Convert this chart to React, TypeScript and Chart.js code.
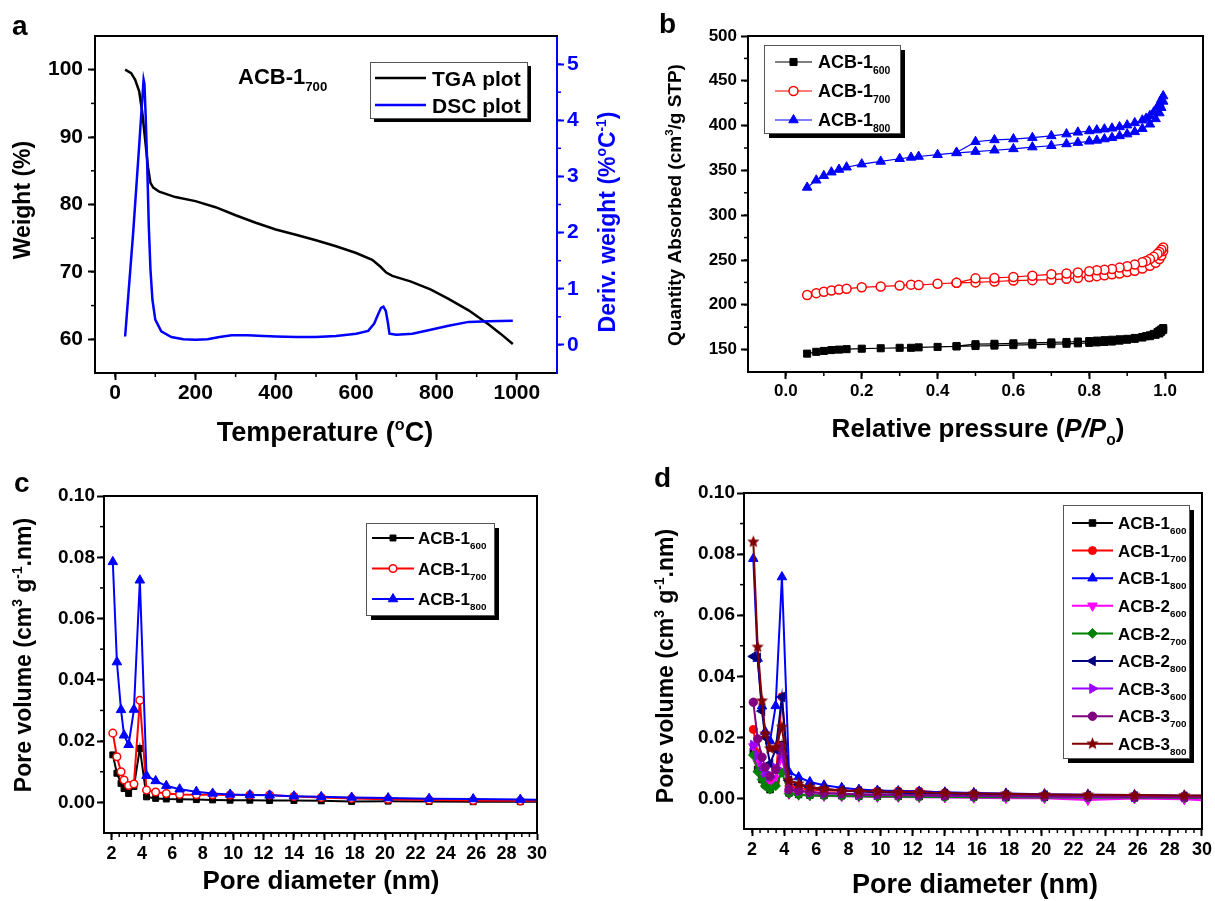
import React, { useEffect, useRef } from 'react';
import { Chart, registerables } from 'chart.js';
import { drawPoint } from 'chart.js/helpers';

Chart.register(...registerables);

const FONT = "'Liberation Sans', Arial, Helvetica, sans-serif";

// ---------------- Panel a : TGA / DSC ----------------
const tgaTemp = [25, 40, 50, 60, 68, 75, 82, 88, 95, 110, 150, 200, 250, 300, 350, 400, 450, 500, 550, 600, 640, 660, 675, 690, 735, 785, 830, 880, 930, 960, 990];
const tgaWeight = [100.0, 99.5, 98.5, 96.8, 93.5, 89.5, 85.5, 83.2, 82.5, 81.9, 81.1, 80.5, 79.6, 78.4, 77.3, 76.3, 75.5, 74.7, 73.8, 72.8, 71.8, 70.8, 69.9, 69.4, 68.6, 67.4, 66.0, 64.3, 62.2, 60.8, 59.3];
const dscTemp = [25, 45, 60, 66, 71, 73, 76, 80, 84, 88, 93, 100, 115, 140, 170, 200, 230, 260, 290, 330, 370, 400, 450, 500, 550, 600, 630, 645, 655, 662, 668, 674, 679, 683, 700, 740, 780, 830, 880, 930, 990];
const dscDeriv = [0.15, 2.0, 3.55, 4.2, 4.72, 4.65, 4.1, 3.2, 2.1, 1.35, 0.8, 0.45, 0.24, 0.14, 0.1, 0.09, 0.1, 0.14, 0.17, 0.17, 0.16, 0.15, 0.14, 0.14, 0.16, 0.2, 0.25, 0.38, 0.55, 0.66, 0.68, 0.6, 0.4, 0.2, 0.18, 0.2, 0.26, 0.34, 0.41, 0.42, 0.43];
const aTempTicks = [0, 200, 400, 600, 800, 1000];
const aWeightTicks = [60, 70, 80, 90, 100];
const aDerivTicks = [0, 1, 2, 3, 4, 5];

// ---------------- Panel b : N2 isotherms ----------------
const bAdsP = [0.056, 0.08, 0.1, 0.12, 0.14, 0.16, 0.2, 0.25, 0.3, 0.33, 0.35, 0.4, 0.45, 0.5, 0.55, 0.6, 0.65, 0.7, 0.74, 0.77, 0.8, 0.82, 0.84, 0.86, 0.88, 0.9, 0.92, 0.94, 0.96, 0.975, 0.985, 0.99, 0.995];
const bDesP = [0.995, 0.99, 0.985, 0.98, 0.97, 0.96, 0.95, 0.94, 0.92, 0.9, 0.88, 0.86, 0.84, 0.82, 0.8, 0.77, 0.74, 0.7, 0.65, 0.6, 0.55, 0.5, 0.45];
const b600Ads = [145.5, 147.5, 148.5, 149.5, 150, 150.5, 151, 151.5, 152, 152, 152.5, 153, 153.5, 154, 154.5, 155, 155.5, 156, 156.5, 157, 157.5, 158, 158.5, 159, 160, 161, 162, 163.5, 165, 166.5, 168, 170, 172];
const b600Des = [174, 172.5, 171, 169.5, 167.5, 166, 165, 164, 163, 162, 161.5, 161, 160.5, 160, 159.5, 159, 158.5, 158, 157.5, 157, 156.5, 156, 154];
const b700Ads = [211, 213, 214.5, 216, 217, 218, 219.5, 220.5, 221.5, 222.5, 222, 223.5, 224.5, 225, 226, 227, 227.5, 228, 229, 230, 231, 232, 233, 234, 235, 236.5, 238, 240.5, 243.5, 247, 251, 255, 260];
const b700Des = [264, 261.5, 259, 257, 253.5, 251, 249, 247.5, 245, 243, 241.5, 240, 239, 238.5, 237.5, 236, 235, 234, 232.5, 231, 230, 229.5, 224.5];
const b800Ads = [331, 339, 344, 348, 351, 353.5, 357, 360, 363, 364.5, 365.5, 367.5, 369.5, 371, 372.5, 374, 376, 377.5, 379.5, 381, 382.5, 383.5, 385, 386.5, 388.5, 390.5, 393, 396.5, 401.5, 407.5, 414, 420, 427];
const b800Des = [433, 429, 424.5, 420.5, 415, 411, 408, 406, 403, 400.5, 398.5, 397, 396, 395, 394, 392.5, 390.5, 388.5, 386.5, 385, 384, 382, 370];
const bPressureTicks = [0, 0.2, 0.4, 0.6, 0.8, 1.0];
const bQuantityTicks = [150, 200, 250, 300, 350, 400, 450, 500];

// ---------------- Panels c, d : pore size distributions ----------------
const poreDiameter = [2.08, 2.35, 2.62, 2.82, 3.12, 3.47, 3.86, 4.3, 4.9, 5.6, 6.48, 7.58, 8.65, 9.8, 11.1, 12.4, 14.0, 15.8, 17.8, 20.2, 22.9, 25.8, 28.9, 31];
const acb1_600 = [0.0155, 0.0095, 0.0062, 0.0045, 0.0029, 0.0052, 0.0176, 0.0018, 0.0013, 0.0011, 0.001, 0.0009, 0.0008, 0.0007, 0.0007, 0.0006, 0.0006, 0.0005, 0.0003, 0.0004, 0.0003, 0.0002, 0.0002, 0.0002];
const acb1_700 = [0.0226, 0.0149, 0.01, 0.0073, 0.0055, 0.006, 0.0333, 0.004, 0.0034, 0.0029, 0.0026, 0.0025, 0.0025, 0.0024, 0.0024, 0.0024, 0.0019, 0.0016, 0.0013, 0.001, 0.0008, 0.0006, 0.0005, 0.0005];
const acb1_800 = [0.0785, 0.0458, 0.0302, 0.0219, 0.0188, 0.0303, 0.0725, 0.0087, 0.007, 0.0054, 0.0043, 0.0035, 0.0029, 0.0026, 0.0024, 0.0023, 0.002, 0.0018, 0.0016, 0.0014, 0.0012, 0.0011, 0.0009, 0.0008];
const acb2_600 = [0.017, 0.0115, 0.008, 0.006, 0.0045, 0.0065, 0.0135, 0.0015, 0.0012, 0.001, 0.0008, 0.0007, 0.0006, 0.0005, 0.0005, 0.0004, 0.0003, 0.0002, 0.0001, 0.0001, -0.0005, 0.0, -0.0003, -0.0008];
const acb2_700 = [0.0142, 0.0088, 0.0062, 0.0041, 0.003, 0.0041, 0.0085, 0.0016, 0.0012, 0.001, 0.0009, 0.0008, 0.0007, 0.0006, 0.0006, 0.0005, 0.0005, 0.0004, 0.0004, 0.0003, 0.0003, 0.0002, 0.0002, 0.0002];
const acb2_800 = [0.0465, 0.046, 0.0286, 0.02, 0.0114, 0.016, 0.0332, 0.0059, 0.0045, 0.0036, 0.003, 0.0026, 0.0023, 0.002, 0.0018, 0.0016, 0.0015, 0.0013, 0.0011, 0.001, 0.0008, 0.0007, 0.0006, 0.0005];
const acb3_600 = [0.0175, 0.014, 0.0105, 0.0085, 0.007, 0.01, 0.0145, 0.003, 0.0025, 0.002, 0.0017, 0.0015, 0.0013, 0.0012, 0.0011, 0.001, 0.0009, 0.0008, 0.0007, 0.0006, 0.0005, 0.0004, 0.0004, 0.0003];
const acb3_700 = [0.0315, 0.0195, 0.0135, 0.0102, 0.0073, 0.0095, 0.017, 0.0029, 0.0025, 0.0021, 0.0018, 0.0016, 0.0014, 0.0013, 0.0012, 0.0011, 0.001, 0.0009, 0.0008, 0.0007, 0.0006, 0.0005, 0.0005, 0.0004];
const acb3_800 = [0.084, 0.0496, 0.032, 0.0212, 0.0163, 0.0168, 0.0234, 0.0059, 0.0048, 0.0037, 0.0032, 0.0026, 0.0024, 0.0023, 0.0021, 0.002, 0.0018, 0.0016, 0.0015, 0.0013, 0.0012, 0.0011, 0.001, 0.001];
const poreDiamTicks = [2, 4, 6, 8, 10, 12, 14, 16, 18, 20, 22, 24, 26, 28, 30];
const poreVolTicks = [0, 0.02, 0.04, 0.06, 0.08, 0.1];

// ---------------- helpers ----------------
type Seg = { t: string; s?: 'sub' | 'sup'; i?: boolean };
const T = (t: string): Seg => ({ t });
const SUB = (t: string): Seg => ({ t, s: 'sub' });
const SUP = (t: string): Seg => ({ t, s: 'sup' });
const IT = (t: string): Seg => ({ t, i: true });

const zip = (xs: number[], ys: number[]) => xs.map((x, i) => ({ x, y: ys[i] }));

function drawRich(ctx: CanvasRenderingContext2D, segs: Seg[], x: number, y: number,
  o: { size: number; color?: string; align?: 'left' | 'center'; rotate?: boolean; sub?: number }) {
  const sc = o.sub ?? 0.6;
  const font = (sz: number, it?: boolean) => `${it ? 'italic ' : ''}bold ${sz}px ${FONT}`;
  let w = 0;
  const parts = segs.map((sg) => {
    const sz = sg.s ? o.size * sc : o.size;
    ctx.font = font(sz, sg.i);
    const mw = ctx.measureText(sg.t).width;
    const p = { sg, sz, x: w };
    w += mw;
    return p;
  });
  ctx.save();
  ctx.translate(x, y);
  if (o.rotate) ctx.rotate(-Math.PI / 2);
  const start = o.align === 'center' ? -w / 2 : 0;
  ctx.fillStyle = o.color ?? '#000';
  ctx.textBaseline = 'alphabetic';
  ctx.textAlign = 'left';
  parts.forEach((p) => {
    ctx.font = font(p.sz, p.sg.i);
    const dy = p.sg.s === 'sub' ? o.size * 0.3 : p.sg.s === 'sup' ? -o.size * 0.4 : 0;
    ctx.fillText(p.sg.t, start + p.x, o.size * 0.36 + dy);
  });
  ctx.restore();
}

type TextItem = { segs: Seg[]; x: number; y: number; size: number; color?: string; rotate?: boolean; align?: 'left' | 'center' };
type Minor = { axis: string; step: number; len: number; color?: string };
type LegendCfg = { x: number; y: number; w: number; h: number; shadow: number; rows: { ds: number; segs: Seg[] }[]; y0: number; dy: number; lx1: number; lx2: number; tx: number; size: number };
type Decor = { texts: TextItem[]; minor: Minor[]; rightLine: boolean; legend: LegendCfg };

function decorPlugin(d: Decor) {
  return {
    id: 'decor',
    afterDraw(chart: any) {
      const ctx: CanvasRenderingContext2D = chart.ctx;
      const a = chart.chartArea;
      ctx.save();
      // frame
      ctx.strokeStyle = '#000';
      ctx.lineWidth = 2;
      ctx.beginPath();
      ctx.moveTo(a.left - 1, a.top);
      ctx.lineTo(a.right + 1, a.top);
      if (d.rightLine) {
        ctx.moveTo(a.right, a.top);
        ctx.lineTo(a.right, a.bottom + 1);
      }
      ctx.stroke();
      // minor ticks
      d.minor.forEach((m) => {
        const s = chart.scales[m.axis];
        ctx.strokeStyle = m.color ?? '#000';
        ctx.lineWidth = 1.5;
        const first = Math.ceil(s.min / m.step - 1e-6);
        for (let k = first; k * m.step <= s.max + 1e-9; k++) {
          const v = k * m.step;
          if (Math.abs(v - s.min) < m.step * 1e-3 || Math.abs(v - s.max) < m.step * 1e-3) continue;
          const p = s.getPixelForValue(v);
          ctx.beginPath();
          if (s.position === 'bottom') { ctx.moveTo(p, s.top); ctx.lineTo(p, s.top + m.len); }
          else if (s.position === 'left') { ctx.moveTo(s.right, p); ctx.lineTo(s.right - m.len, p); }
          else { ctx.moveTo(s.left, p); ctx.lineTo(s.left + m.len, p); }
          ctx.stroke();
        }
      });
      // legend
      const L = d.legend;
      ctx.fillStyle = '#000';
      ctx.fillRect(L.x + L.shadow, L.y + L.shadow, L.w, L.h);
      ctx.fillStyle = '#fff';
      ctx.fillRect(L.x, L.y, L.w, L.h);
      ctx.strokeStyle = '#555';
      ctx.lineWidth = 1;
      ctx.strokeRect(L.x + 0.5, L.y + 0.5, L.w, L.h);
      L.rows.forEach((r, i) => {
        const ds: any = chart.data.datasets[r.ds];
        const cy = L.y0 + i * L.dy;
        ctx.strokeStyle = ds.borderColor;
        ctx.lineWidth = ds.borderWidth;
        ctx.beginPath();
        ctx.moveTo(L.lx1, cy);
        ctx.lineTo(L.lx2, cy);
        ctx.stroke();
        if (ds.pointRadius > 0) {
          const mx = (L.lx1 + L.lx2) / 2;
          const st = ds.pointStyle;
          if (st instanceof HTMLCanvasElement) {
            ctx.drawImage(st, mx - st.width / 2, cy - st.height / 2);
          } else {
            ctx.fillStyle = ds.pointBackgroundColor;
            ctx.strokeStyle = ds.pointBorderColor;
            ctx.lineWidth = ds.pointBorderWidth;
            drawPoint(ctx, { pointStyle: st, rotation: ds.pointRotation || 0, radius: ds.pointRadius, borderWidth: ds.pointBorderWidth } as any, mx, cy);
          }
        }
        drawRich(ctx, r.segs, L.tx, cy, { size: L.size, sub: 0.58 });
      });
      // texts
      d.texts.forEach((t) => drawRich(ctx, t.segs, t.x, t.y, { size: t.size, color: t.color, rotate: t.rotate, align: t.align }));
      ctx.restore();
    },
  };
}

type AxisCfg = { pos: 'left' | 'right' | 'bottom'; min: number; max: number; ticks: number[]; fmt: (v: number) => string; thick: number; font: number; pad: number; color?: string };
function mkAxis(c: AxisCfg) {
  const color = c.color ?? '#000';
  return {
    type: 'linear',
    position: c.pos,
    min: c.min,
    max: c.max,
    afterBuildTicks: (s: any) => { s.ticks = c.ticks.map((v) => ({ value: v })); },
    afterFit: (s: any) => { if (c.pos === 'bottom') s.height = c.thick; else s.width = c.thick; },
    grid: { display: true, drawOnChartArea: false, drawTicks: true, tickLength: 7, tickWidth: 2, tickColor: color, color },
    border: { display: true, color, width: 2 },
    ticks: {
      color, autoSkip: false, maxRotation: 0, minRotation: 0, padding: c.pad,
      font: { family: FONT, size: c.font, weight: 'bold' },
      callback: (v: any) => c.fmt(Number(v)),
    },
  };
}

function ser(label: string, data: any[], color: string, style: any, o: any = {}) {
  return {
    label, data, borderColor: color, backgroundColor: color, borderWidth: 2,
    pointStyle: style, pointRadius: 4, pointBackgroundColor: color, pointBorderColor: color,
    pointBorderWidth: 1, pointRotation: 0, tension: 0, ...o,
  };
}

function makeStar(color: string, r: number) {
  const c = document.createElement('canvas');
  const s = Math.ceil(r * 2 + 2);
  c.width = s; c.height = s;
  const g = c.getContext('2d')!;
  g.fillStyle = color;
  g.beginPath();
  for (let i = 0; i < 10; i++) {
    const ang = -Math.PI / 2 + (i * Math.PI) / 5;
    const rr = i % 2 === 0 ? r : r * 0.45;
    g.lineTo(s / 2 + rr * Math.cos(ang), s / 2 + rr * Math.sin(ang));
  }
  g.closePath();
  g.fill();
  return c;
}

const baseOptions = (padding: any, scales: any) => ({
  responsive: false,
  animation: false,
  devicePixelRatio: 1,
  layout: { padding },
  plugins: { legend: { display: false }, tooltip: { enabled: false } },
  scales,
});

const orderize = (ds: any[]) => ds.map((d, i) => ({ ...d, order: ds.length - i }));

// ---------------- chart configs ----------------
function configA() {
  const datasets = [
    { label: 'TGA plot', data: zip(tgaTemp, tgaWeight), borderColor: '#000000', borderWidth: 2.5, pointRadius: 0, yAxisID: 'y', order: 2 },
    { label: 'DSC plot', data: zip(dscTemp, dscDeriv), borderColor: '#0000ff', borderWidth: 2.5, pointRadius: 0, yAxisID: 'y2', order: 1 },
  ];
  const decor: Decor = {
    rightLine: false,
    minor: [{ axis: 'x', step: 100, len: 4 }, { axis: 'y', step: 5, len: 4 }, { axis: 'y2', step: 0.5, len: 4, color: '#0000ff' }],
    texts: [
      { segs: [T('a')], x: 12, y: 25, size: 28 },
      { segs: [T('Weight (%)')], x: 22, y: 200, size: 23, rotate: true, align: 'center' },
      { segs: [T('Temperature ('), SUP('o'), T('C)')], x: 325, y: 431, size: 27, align: 'center' },
      { segs: [T('Deriv. weight (%'), SUP('o'), T('C'), SUP('-1'), T(')')], x: 607, y: 222, size: 23, rotate: true, align: 'center', color: '#0000ff' },
      { segs: [T('ACB-1'), SUB('700')], x: 238, y: 76, size: 22 },
    ],
    legend: {
      x: 370, y: 62, w: 157, h: 56, shadow: 4, y0: 78, dy: 27, lx1: 375, lx2: 426, tx: 432, size: 21,
      rows: [{ ds: 0, segs: [T('TGA plot')] }, { ds: 1, segs: [T('DSC plot')] }],
    },
  };
  return {
    type: 'line',
    data: { datasets },
    options: baseOptions({ top: 36, left: 0, right: 0, bottom: 0 }, {
      x: mkAxis({ pos: 'bottom', min: -50, max: 1100, ticks: aTempTicks, fmt: (v) => String(v), thick: 77, font: 21, pad: 1 }),
      y: mkAxis({ pos: 'left', min: 55, max: 105, ticks: aWeightTicks, fmt: (v) => String(v), thick: 95, font: 21, pad: 5 }),
      y2: mkAxis({ pos: 'right', min: -0.5, max: 5.5, ticks: aDerivTicks, fmt: (v) => String(v), thick: 83, font: 21, pad: 3, color: '#0000ff' }),
    }),
    plugins: [decorPlugin(decor)],
  };
}

function configB() {
  const datasets = orderize([
    ser('ACB-1600', [...zip(bAdsP, b600Ads), ...zip(bDesP, b600Des)], '#000000', 'rect', { borderWidth: 1.2, pointRadius: 5 }),
    ser('ACB-1700', [...zip(bAdsP, b700Ads), ...zip(bDesP, b700Des)], '#ff0000', 'circle', { borderWidth: 1.2, pointRadius: 4.5, pointBackgroundColor: '#ffffff', pointBorderWidth: 1.5 }),
    ser('ACB-1800', [...zip(bAdsP, b800Ads), ...zip(bDesP, b800Des)], '#0000ff', 'triangle', { borderWidth: 1.2, pointRadius: 5.5 }),
  ]);
  const decor: Decor = {
    rightLine: true,
    minor: [{ axis: 'x', step: 0.1, len: 4 }, { axis: 'y', step: 25, len: 4 }],
    texts: [
      { segs: [T('b')], x: 19, y: 23, size: 28 },
      { segs: [T('Quantity Absorbed (cm'), SUP('3'), T('/g STP)')], x: 34, y: 205, size: 19, rotate: true, align: 'center' },
      { segs: [T('Relative pressure ('), IT('P/P'), SUB('o'), T(')')], x: 338, y: 428, size: 26, align: 'center' },
    ],
    legend: {
      x: 124, y: 45, w: 136, h: 88, shadow: 5, y0: 62, dy: 29, lx1: 135, lx2: 172, tx: 178, size: 18,
      rows: [
        { ds: 0, segs: [T('ACB-1'), SUB('600')] },
        { ds: 1, segs: [T('ACB-1'), SUB('700')] },
        { ds: 2, segs: [T('ACB-1'), SUB('800')] },
      ],
    },
  };
  return {
    type: 'line',
    data: { datasets },
    options: baseOptions({ top: 36, left: 0, right: 12, bottom: 0 }, {
      x: mkAxis({ pos: 'bottom', min: -0.1, max: 1.1, ticks: bPressureTicks, fmt: (v) => v.toFixed(1), thick: 78, font: 17, pad: 2 }),
      y: mkAxis({ pos: 'left', min: 125, max: 500, ticks: bQuantityTicks, fmt: (v) => String(v), thick: 108, font: 17, pad: 4 }),
    }),
    plugins: [decorPlugin(decor)],
  };
}

function configC() {
  const datasets = orderize([
    ser('ACB-1600', zip(poreDiameter, acb1_600), '#000000', 'rect', { pointRadius: 4.2 }),
    ser('ACB-1700', zip(poreDiameter, acb1_700), '#ff0000', 'circle', { pointRadius: 3.8, pointBackgroundColor: '#ffffff', pointBorderWidth: 1.5 }),
    ser('ACB-1800', zip(poreDiameter, acb1_800), '#0000ff', 'triangle', { pointRadius: 5.5 }),
  ]);
  const decor: Decor = {
    rightLine: true,
    minor: [{ axis: 'x', step: 0.5, len: 4 }, { axis: 'y', step: 0.01, len: 4 }],
    texts: [
      { segs: [T('c')], x: 14, y: 32, size: 28 },
      { segs: [T('Pore volume (cm'), SUP('3'), T(' g'), SUP('-1'), T('.nm)')], x: 23, y: 205, size: 23, rotate: true, align: 'center' },
      { segs: [T('Pore diameter (nm)')], x: 321, y: 430, size: 26, align: 'center' },
    ],
    legend: {
      x: 366, y: 73, w: 128, h: 92, shadow: 5, y0: 88, dy: 30.5, lx1: 372, lx2: 414, tx: 418, size: 17,
      rows: [
        { ds: 0, segs: [T('ACB-1'), SUB('600')] },
        { ds: 1, segs: [T('ACB-1'), SUB('700')] },
        { ds: 2, segs: [T('ACB-1'), SUB('800')] },
      ],
    },
  };
  return {
    type: 'line',
    data: { datasets },
    options: baseOptions({ top: 46, left: 0, right: 103, bottom: 0 }, {
      x: mkAxis({ pos: 'bottom', min: 1.5, max: 30, ticks: poreDiamTicks, fmt: (v) => String(v), thick: 68, font: 18, pad: 3 }),
      y: mkAxis({ pos: 'left', min: -0.01, max: 0.1, ticks: poreVolTicks, fmt: (v) => v.toFixed(2), thick: 104, font: 19, pad: 2 }),
    }),
    plugins: [decorPlugin(decor)],
  };
}

function configD() {
  const star = makeStar('#800000', 6.5);
  const datasets = orderize([
    ser('ACB-1600', zip(poreDiameter, acb1_600), '#000000', 'rect', { pointRadius: 4.6 }),
    ser('ACB-1700', zip(poreDiameter, acb1_700), '#ff0000', 'circle', { pointRadius: 4 }),
    ser('ACB-1800', zip(poreDiameter, acb1_800), '#0000ff', 'triangle', { pointRadius: 5.5 }),
    ser('ACB-2600', zip(poreDiameter, acb2_600), '#ff00ff', 'triangle', { pointRadius: 5.5, pointRotation: 180 }),
    ser('ACB-2700', zip(poreDiameter, acb2_700), '#008000', 'rectRot', { pointRadius: 4.8 }),
    ser('ACB-2800', zip(poreDiameter, acb2_800), '#000080', 'triangle', { pointRadius: 5.5, pointRotation: -90 }),
    ser('ACB-3600', zip(poreDiameter, acb3_600), '#9900ff', 'triangle', { pointRadius: 5.5, pointRotation: 90 }),
    ser('ACB-3700', zip(poreDiameter, acb3_700), '#800080', 'circle', { pointRadius: 4.2 }),
    ser('ACB-3800', zip(poreDiameter, acb3_800), '#800000', star, {}),
  ]);
  const names = [['ACB-1', '600'], ['ACB-1', '700'], ['ACB-1', '800'], ['ACB-2', '600'], ['ACB-2', '700'], ['ACB-2', '800'], ['ACB-3', '600'], ['ACB-3', '700'], ['ACB-3', '800']];
  const decor: Decor = {
    rightLine: true,
    minor: [{ axis: 'x', step: 0.5, len: 4 }, { axis: 'y', step: 0.01, len: 4 }],
    texts: [
      { segs: [T('d')], x: 14, y: 27, size: 28 },
      { segs: [T('Pore volume (cm'), SUP('3'), T(' g'), SUP('-1'), T('.nm)')], x: 25, y: 216, size: 23, rotate: true, align: 'center' },
      { segs: [T('Pore diameter (nm)')], x: 335, y: 433, size: 27, align: 'center' },
    ],
    legend: {
      x: 423, y: 55, w: 126, h: 253, shadow: 5, y0: 73, dy: 27.6, lx1: 432, lx2: 473, tx: 478, size: 17,
      rows: names.map((n, i) => ({ ds: i, segs: [T(n[0]), SUB(n[1])] })),
    },
  };
  return {
    type: 'line',
    data: { datasets },
    options: baseOptions({ top: 43, left: 0, right: 11, bottom: 0 }, {
      x: mkAxis({ pos: 'bottom', min: 1.5, max: 30, ticks: poreDiamTicks, fmt: (v) => String(v), thick: 72, font: 18, pad: 3 }),
      y: mkAxis({ pos: 'left', min: -0.01, max: 0.1, ticks: poreVolTicks, fmt: (v) => v.toFixed(2), thick: 104, font: 19, pad: 2 }),
    }),
    plugins: [decorPlugin(decor)],
  };
}

function Panel({ make, left, top, width, height }: { make: () => any; left: number; top: number; width: number; height: number }) {
  const ref = useRef<HTMLCanvasElement>(null);
  useEffect(() => {
    const chart = new Chart(ref.current as HTMLCanvasElement, make());
    return () => chart.destroy();
  }, []);
  return (
    <canvas ref={ref} width={width} height={height}
      style={{ position: 'absolute', left, top, width, height }} />
  );
}

export default function App() {
  return (
    <div style={{ position: 'absolute', left: 0, top: 0, width: 1215, height: 901, background: '#fff', overflow: 'hidden' }}>
      <Panel make={configA} left={0} top={0} width={640} height={450} />
      <Panel make={configB} left={640} top={0} width={575} height={450} />
      <Panel make={configC} left={0} top={450} width={640} height={451} />
      <Panel make={configD} left={640} top={450} width={575} height={451} />
    </div>
  );
}
